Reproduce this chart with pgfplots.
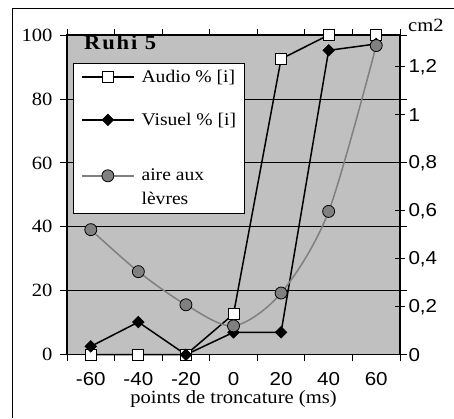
\documentclass[border=0pt]{standalone}
\usepackage{fontspec}
\setmainfont[FakeStretch=1.1]{Liberation Serif}
\setsansfont[FakeStretch=1.1]{Liberation Sans}
\newfontfamily\titlefont[LetterSpace=9, FakeStretch=1.1]{Liberation Serif}
\usepackage{pgfplots}
\pgfplotsset{compat=1.18}
\definecolor{plotgray}{RGB}{192,192,192}
\definecolor{airegray}{RGB}{128,128,128}
\newcommand{\fs}{\fontsize{18.7}{23.5}\selectfont}
\newcommand{\ls}{\fontsize{17.8}{23.5}\selectfont}
\pgfplotsset{
  tall legend/.style={legend image code/.code={\path (0pt,31pt); \draw[mark repeat=2,mark phase=2,##1] plot coordinates {(0pt,11.75pt) (26pt,11.75pt) (52pt,11.75pt)};}},
}
\begin{document}
\begin{tikzpicture}[font=\fs]
\useasboundingbox (0pt,0pt) rectangle (454pt,418pt);
\draw[line width=1pt] (12.7pt,0pt) -- (12.7pt,409.7pt) -- (454pt,409.7pt);
\begin{axis}[
  at={(67pt,63.3pt)}, anchor=south west,
  scale only axis, width=333pt, height=319.7pt,
  xmin=-70, xmax=70, ymin=0, ymax=100,
  clip=false,
  axis background/.style={fill=plotgray},
  axis line style={black, line width=1.3pt},
  xtick={-60,-40,-20,0,20,40,60},
  every major x tick/.append style={draw=none},
  minor xtick={-70,-50,-30,-10,10,30,50,70},
  minor tick length=6pt,
  ytick={0,20,40,60,80,100},
  tick align=outside,
  major tick length=7pt,
  tick style={black, line width=0.8pt},
  ymajorgrids, grid style={black, line width=0.8pt},
  x tick label style={font=\sffamily\fs, yshift=-7pt},
  y tick label style={font=\rmfamily\fs, xshift=-4pt},
  /pgf/number format/assume math mode=true,
  xlabel={points de troncature (ms)},
  xlabel style={at={(axis description cs:0.5,0)}, anchor=base, yshift=-48.5pt, inner sep=0pt, font=\fs},
  legend style={at={(rel axis cs:0,1)}, anchor=north west, xshift=5.7pt, yshift=-27.7pt,
    draw=black, line width=0.8pt, fill=white, inner xsep=8pt, inner ysep=7pt,
    row sep=29pt, column sep=7pt, font=\ls, nodes={align=left, inner sep=0pt}},
  legend cell align=left,
  legend image code/.code={\draw[mark repeat=2,mark phase=2,#1] plot coordinates {(0pt,0pt) (26pt,0pt) (52pt,0pt)};},
]
\addplot[black, line width=1.5pt, mark=square*, mark size=5.5pt, mark options={fill=white, line width=0.8pt}]
  coordinates {(-60,0) (-40,0) (-20,0) (0,12.7) (20,92.5) (40,100) (60,100)};
\addlegendentry{Audio \% [i]}
\addplot[black, line width=1.5pt, mark=diamond*, mark size=5.8pt, mark options={fill=black, line width=0.6pt, xscale=1.33}]
  coordinates {(-60,2.6) (-40,10.2) (-20,0) (0,7) (20,7) (40,95.2) (60,97.2)};
\addlegendentry{Visuel \% [i]}
\addlegendimage{airegray, line width=1.5pt, mark=*, mark size=6pt, mark options={fill=airegray, draw=black, line width=0.8pt}, tall legend}
\addlegendentry{aire aux\\lèvres}
\node[anchor=base west, inner sep=0pt, font=\titlefont\bfseries\fontsize{20.5}{24}\selectfont, xshift=17pt, yshift=-15pt] at (rel axis cs:0,1) {Ruhi 5};
\end{axis}
\begin{axis}[
  at={(67pt,63.3pt)}, anchor=south west,
  scale only axis, width=333pt, height=319.7pt,
  xmin=-70, xmax=70, ymin=0, ymax=1.332,
  axis y line*=right, axis x line=none,
  clip=false,
  ytick={0,0.2,0.4,0.6,0.8,1,1.2},
  tick align=center, major tick length=10pt,
  tick style={black, line width=0.8pt},
  axis line style={black, line width=1.3pt},
  y tick label style={font=\sffamily\fs, /pgf/number format/.cd, use comma, fixed, precision=1},
  /pgf/number format/assume math mode=true,
]
\addplot[airegray, line width=1.5pt, smooth, tension=0.5, mark=*, mark size=6pt, mark options={fill=airegray, draw=black, line width=0.8pt}]
  coordinates {(-60,0.521) (-40,0.346) (-20,0.208) (0,0.12) (20,0.257) (40,0.597) (60,1.288)};
\node[anchor=base west, inner sep=0pt, font=\fs, xshift=8pt, yshift=3.3pt] at (rel axis cs:1,1) {cm2};
\end{axis}
\end{tikzpicture}
\end{document}
